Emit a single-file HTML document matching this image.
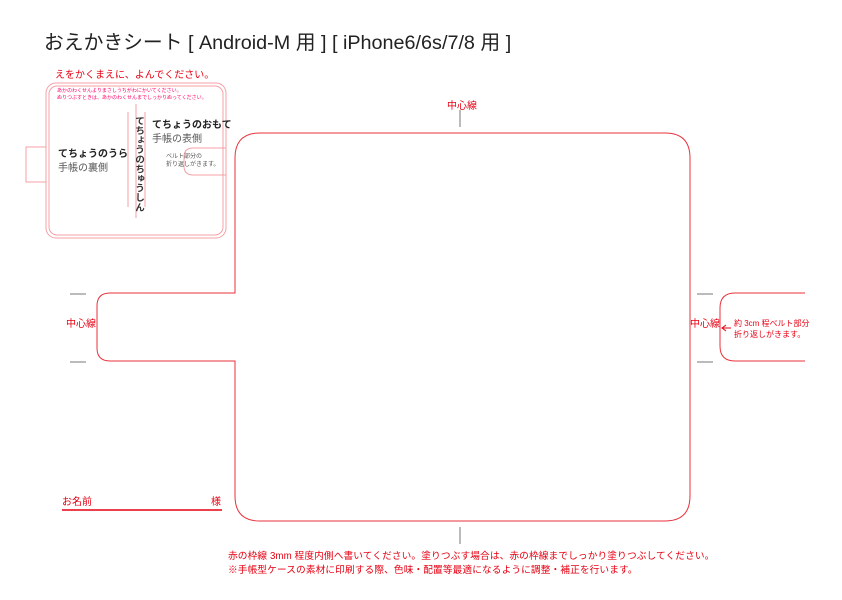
<!DOCTYPE html>
<html><head><meta charset="utf-8"><style>
body{margin:0;background:#fff;width:842px;height:600px;overflow:hidden;position:relative;font-family:"Liberation Sans","Noto Sans CJK JP",sans-serif}
.t{position:absolute;white-space:nowrap}
.r{color:#e60012}
</style></head><body>
<svg width="842" height="600" style="position:absolute;left:0;top:0" fill="none">
<g stroke="#e8323c" stroke-width="1">
<path d="M260 133 H665 Q690 133 690 158 V496 Q690 521 665 521 H260 Q235 521 235 496 V361 H110 Q97 361 97 348 V306 Q97 293 110 293 H235 V158 Q235 133 260 133 Z"/>
<path d="M805 293 H735 Q720 293 720 308 V346 Q720 361 735 361 H805"/>
</g>
<g stroke="#777" stroke-width="1">
<line x1="460" y1="110" x2="460" y2="127"/>
<line x1="460" y1="527" x2="460" y2="544"/>
<line x1="70" y1="294" x2="86" y2="294"/><line x1="70" y1="362" x2="86" y2="362"/>
<line x1="697" y1="294" x2="713" y2="294"/><line x1="697" y1="362" x2="713" y2="362"/>
</g>
<g stroke="#f4a0a6" stroke-width="1">
<rect x="46" y="83" width="180" height="155" rx="10"/>
<rect x="49" y="86" width="174" height="149" rx="8"/>
<path d="M46 147 H26 V182 H46"/>
<line x1="136" y1="104" x2="136" y2="218"/>
<line x1="128" y1="112" x2="128" y2="207"/><line x1="145" y1="112" x2="145" y2="207"/>
<path d="M226 148 H193 Q184 148 184 157 V166 Q184 175 193 175 H226"/>
</g>
<line x1="62" y1="510" x2="222" y2="510" stroke="#e60012" stroke-width="1.5"/>
<path d="M731 328 H722 M726 325 L722 328 L726 331" stroke="#e60012"/>
</svg>
<div class="t" style="left:44px;top:26px;font-size:19.8px;color:#222">おえかきシート [ Android-M 用 ] [ iPhone6/6s/7/8 用 ]</div>
<div class="t r" style="left:55px;top:66px;font-size:10px">えをかくまえに、よんでください。</div>
<div class="t r" style="left:57px;top:88px;font-size:5px;line-height:7px;color:#f06">あかのわくせんよりまさしうちがわにかいてください。<br>ぬりつぶすときは、あかのわくせんまでしっかりぬってください。</div>
<div class="t" style="left:58px;top:148px;font-size:10px;line-height:14px;color:#222"><b>てちょうのうら</b><br><span style="color:#555">手帳の裏側</span></div>
<div class="t" style="left:152px;top:119px;font-size:10px;line-height:14px;color:#222"><b>てちょうのおもて</b><br><span style="color:#555">手帳の表側</span></div>
<div class="t" style="left:131px;top:116px;font-size:9.6px;writing-mode:vertical-rl;color:#333;font-weight:bold">てちょうのちゅうしん</div>
<div class="t" style="left:166px;top:153px;font-size:6px;line-height:8px;color:#555">ベルト部分の<br>折り返しがきます。</div>
<div class="t r" style="left:447px;top:97px;font-size:10px">中心線</div>
<div class="t r" style="left:66px;top:315px;font-size:10px">中心線</div>
<div class="t r" style="left:690px;top:315px;font-size:10px">中心線</div>
<div class="t r" style="left:734px;top:318px;font-size:8px;line-height:11px">約 3cm 程ベルト部分<br>折り返しがきます。</div>
<div class="t r" style="left:62px;top:493px;font-size:10px">お名前</div>
<div class="t r" style="left:211px;top:493px;font-size:10px">様</div>
<div class="t r" style="left:228px;top:550px;font-size:9.7px;line-height:14px;letter-spacing:0.1px">赤の枠線 3mm 程度内側へ書いてください。塗りつぶす場合は、赤の枠線までしっかり塗りつぶしてください。<br>※手帳型ケースの素材に印刷する際、色味・配置等最適になるように調整・補正を行います。</div>
</body></html>
